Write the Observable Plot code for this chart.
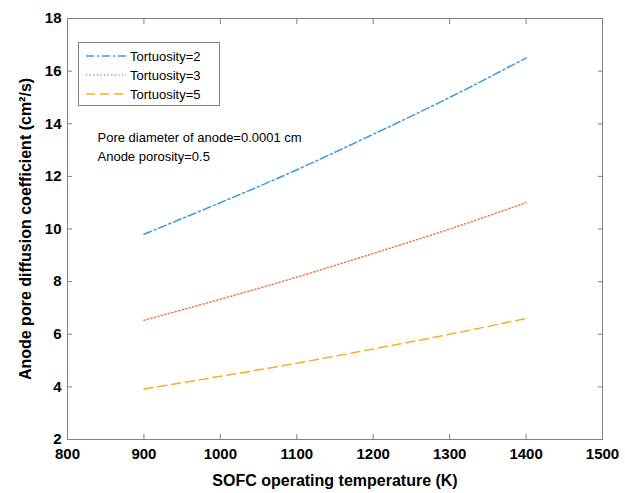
<!DOCTYPE html>
<html>
<head>
<meta charset="utf-8">
<script src="https://cdn.jsdelivr.net/npm/d3@7"></script>
<script src="https://cdn.jsdelivr.net/npm/@observablehq/plot@0.6"></script>
<style>
  html, body { margin: 0; padding: 0; background: #fff; }
  #wrap { position: relative; width: 625px; height: 493px; }
  #legend { position: absolute; left: 78px; top: 42px; }
</style>
</head>
<body>
<div id="wrap"><div id="chart"></div><div id="legend"></div></div>
<script>
// Data
const temperatures = [900, 1000, 1100, 1200, 1300, 1400];
const tortuosity2 = [9.8, 11.0, 12.25, 13.6, 15.0, 16.5];
const tortuosity3 = [6.53, 7.33, 8.17, 9.07, 10.0, 11.0];
const tortuosity5 = [3.92, 4.4, 4.9, 5.44, 6.0, 6.6];
const seriesNames = ["Tortuosity=2", "Tortuosity=3", "Tortuosity=5"];
const seriesColors = ["#3d9ad9", "#ef7b52", "#f0b226"];
const seriesDash = ["8,3,2,3", "1.2,2.4", "9,5"];
const xTicks = [800, 900, 1000, 1100, 1200, 1300, 1400, 1500];
const yTicks = [2, 4, 6, 8, 10, 12, 14, 16, 18];
const annotation = "Pore diameter of anode=0.0001 cm\nAnode porosity=0.5";

const seriesValues = [tortuosity2, tortuosity3, tortuosity5];
const rows = seriesValues.flatMap((vals, i) =>
  temperatures.map((t, j) => ({series: seriesNames[i], T: t, D: vals[j]})));

const fontFamily = "'Liberation Sans', Arial, Helvetica, sans-serif";

const lineMarks = seriesNames.map((name, i) =>
  Plot.line(rows.filter(d => d.series === name), {
    x: "T", y: "D", stroke: seriesColors[i], strokeWidth: 1.5,
    strokeDasharray: seriesDash[i], curve: "natural"
  }));

const chart = Plot.plot({
  width: 625,
  height: 493,
  marginLeft: 67,
  marginRight: 23,
  marginTop: 18,
  marginBottom: 54,
  style: {fontFamily, fontSize: "15px", fontWeight: "bold", color: "#000", background: "#fff"},
  x: {domain: [800, 1500]},
  y: {domain: [2, 18]},
  marks: [
    Plot.frame({stroke: "#808080"}),
    Plot.axisX({ticks: xTicks, tickSize: -5, tickPadding: 14, stroke: "#808080", tickFormat: d => String(d),
      label: "SOFC operating temperature (K)", labelAnchor: "center", labelArrow: "none", labelOffset: 46}),
    Plot.axisX({anchor: "top", ticks: xTicks, tickSize: -5, tickFormat: () => "", label: null, stroke: "#808080"}),
    Plot.axisY({ticks: yTicks, tickSize: -5, tickPadding: 11, stroke: "#808080", tickFormat: d => String(d),
      label: "Anode pore diffusion coefficient (cm²/s)", labelAnchor: "center", labelArrow: "none", labelOffset: 48}),
    Plot.axisY({anchor: "right", ticks: yTicks, tickSize: -5, tickFormat: () => "", label: null, stroke: "#808080"}),
    ...lineMarks,
    Plot.text([annotation], {frameAnchor: "top-left", dx: 30, dy: 110, textAnchor: "start",
      lineAnchor: "top", fontSize: 13, fontWeight: "normal", lineHeight: 1.45, fill: "#000"})
  ]
});
document.getElementById("chart").appendChild(chart);

// Axis titles a touch larger
d3.select(chart).selectAll('g[aria-label="x-axis label"] text, g[aria-label="y-axis label"] text')
  .style("font-size", "16px");

// Legend
const lg = d3.select("#legend").append("svg").attr("width", 142).attr("height", 64)
  .style("font-family", fontFamily).style("font-size", "13px");
lg.append("rect").attr("x", 0.5).attr("y", 0.5).attr("width", 141).attr("height", 63)
  .attr("fill", "#fff").attr("stroke", "#808080");
seriesNames.forEach((name, i) => {
  const y = 14 + i * 19;
  lg.append("line").attr("x1", 8).attr("x2", 48).attr("y1", y).attr("y2", y)
    .attr("stroke", seriesColors[i]).attr("stroke-width", 1.5).attr("stroke-dasharray", seriesDash[i]);
  lg.append("text").attr("x", 52).attr("y", y).attr("dy", "0.35em").text(name);
});
</script>
</body>
</html>
